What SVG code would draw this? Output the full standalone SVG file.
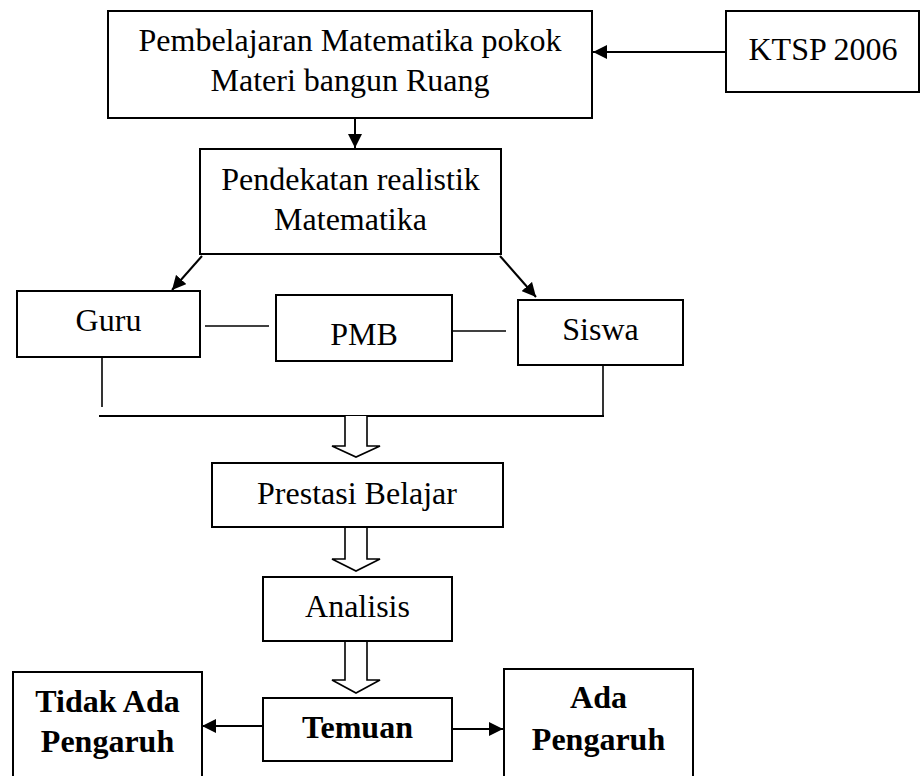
<svg xmlns="http://www.w3.org/2000/svg" width="920" height="776" viewBox="0 0 920 776">
<style>
.box{fill:#fff;stroke:#000;stroke-width:2}
.t{font-family:"Liberation Serif","Times New Roman",serif;font-size:32px;fill:#000;text-anchor:middle}
.b{font-weight:bold}
.ln{stroke:#000;stroke-width:2;fill:none}
.thin{stroke:#000;stroke-width:1.6;fill:none}
.hollow{fill:#fff;stroke:#000;stroke-width:1.6}
</style>
<defs>
<marker id="ah" viewBox="0 0 14 14" refX="14" refY="7" markerUnits="userSpaceOnUse" markerWidth="14" markerHeight="14" orient="auto">
<path d="M0,0 L14,7 L0,14 z" fill="#000"/>
</marker>
</defs>
<rect width="920" height="776" fill="#fff"/>
<g id="connectors">
<line class="ln" x1="726" y1="52" x2="593" y2="52" marker-end="url(#ah)"/>
<line class="ln" x1="355" y1="119" x2="355" y2="148" marker-end="url(#ah)"/>
<line class="ln" x1="202" y1="256" x2="172" y2="290" marker-end="url(#ah)"/>
<line class="ln" x1="500" y1="256" x2="536" y2="297" marker-end="url(#ah)"/>
<line class="thin" x1="205" y1="326" x2="269" y2="326"/>
<line class="thin" x1="452" y1="331" x2="506" y2="331"/>
<line class="thin" x1="102" y1="357" x2="102" y2="407"/>
<line class="thin" x1="603" y1="366" x2="603" y2="416"/>
<line class="ln" x1="99" y1="416" x2="604" y2="416"/>
<path class="hollow" d="M345,416 L345,446 L332,446 L356,457 L380,446 L367,446 L367,416"/>
<path class="hollow" d="M345,527 L345,559 L332,559 L356,571 L380,559 L367,559 L367,527"/>
<path class="hollow" d="M345,641 L345,680 L332,680 L356,693 L380,680 L367,680 L367,641"/>
<line class="ln" x1="263" y1="726" x2="202" y2="726" marker-end="url(#ah)"/>
<line class="ln" x1="452" y1="729" x2="503" y2="729" marker-end="url(#ah)"/>
</g>
<g id="n-pembelajaran">
<rect class="box" x="108" y="11" width="484" height="107"/>
<text class="t" x="350" y="51">Pembelajaran Matematika pokok</text>
<text class="t" x="350" y="91">Materi bangun Ruang</text>
</g>
<g id="n-ktsp">
<rect class="box" x="726" y="11" width="193" height="81"/>
<text class="t" x="823" y="60">KTSP 2006</text>
</g>
<g id="n-pendekatan">
<rect class="box" x="200" y="149" width="301" height="105"/>
<text class="t" x="350.5" y="190">Pendekatan realistik</text>
<text class="t" x="350.5" y="230">Matematika</text>
</g>
<g id="n-guru">
<rect class="box" x="17" y="291" width="183" height="66"/>
<text class="t" x="108.5" y="331">Guru</text>
</g>
<g id="n-pmb">
<rect class="box" x="276" y="295" width="176" height="66"/>
<text class="t" x="364" y="345">PMB</text>
</g>
<g id="n-siswa">
<rect class="box" x="518" y="300" width="165" height="65"/>
<text class="t" x="600.5" y="340">Siswa</text>
</g>
<g id="n-prestasi">
<rect class="box" x="212" y="463" width="291" height="64"/>
<text class="t" x="357" y="504">Prestasi Belajar</text>
</g>
<g id="n-analisis">
<rect class="box" x="263" y="577" width="189" height="64"/>
<text class="t" x="357.5" y="617">Analisis</text>
</g>
<g id="n-temuan">
<rect class="box" x="263" y="698" width="189" height="63"/>
<text class="t b" x="357.5" y="738">Temuan</text>
</g>
<g id="n-tidak">
<rect class="box" x="13" y="672" width="189" height="110"/>
<text class="t b" x="107.5" y="712">Tidak Ada</text>
<text class="t b" x="107.5" y="752">Pengaruh</text>
</g>
<g id="n-ada">
<rect class="box" x="504" y="669" width="189" height="113"/>
<text class="t b" x="598.5" y="708">Ada</text>
<text class="t b" x="598.5" y="750">Pengaruh</text>
</g>
</svg>
